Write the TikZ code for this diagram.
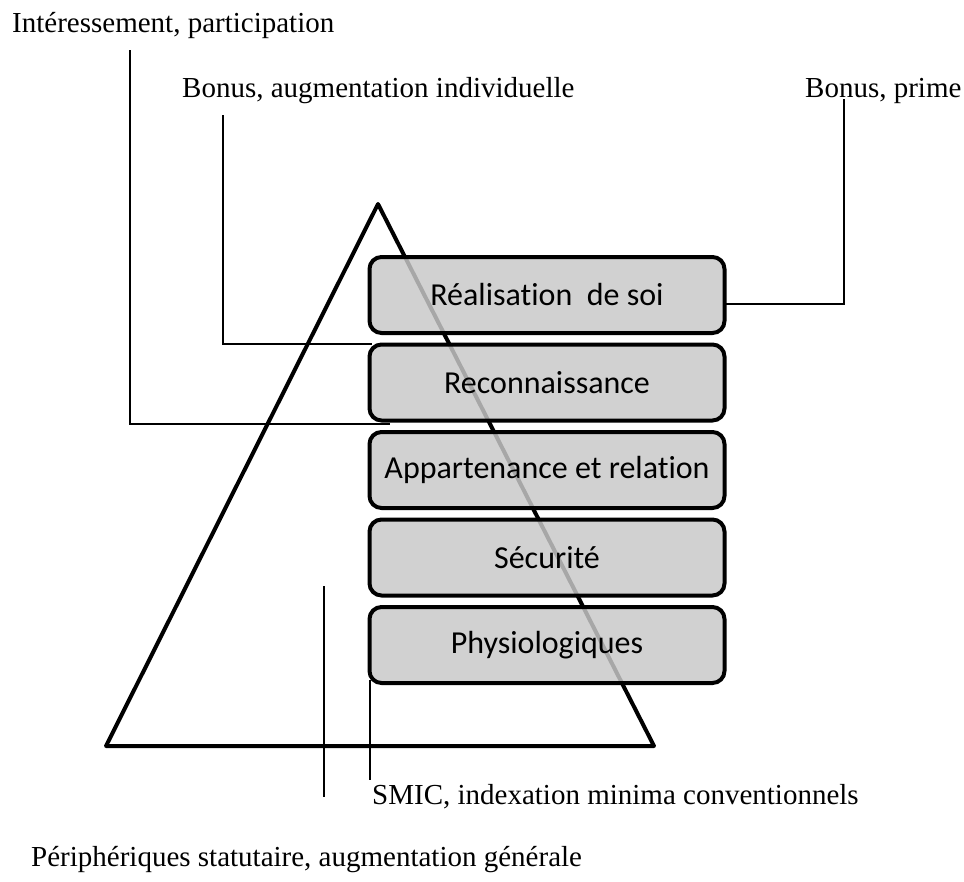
\documentclass[tikz,border=0pt]{standalone}
\usepackage{fontspec}
\setmainfont{Liberation Serif}
\newfontfamily\boxfont[Ligatures=NoCommon]{Carlito}
\begin{document}
\begin{tikzpicture}[x=1pt,y=-1pt,
  level/.style={draw=black, line width=4pt, rounded corners=12pt,
    fill={rgb,255:red,200;green,200;blue,200}, fill opacity=0.84, text opacity=1,
    minimum width=355pt, minimum height=76pt, inner sep=0pt,
    font=\boxfont\fontsize{32}{36}\selectfont},
  lbl/.style={anchor=base west, inner sep=0pt, font=\fontsize{29}{32}\selectfont},
  conn/.style={draw=black, line width=1.5pt}]
\useasboundingbox (0,0) rectangle (964,881);
% triangle
\coordinate (apex) at (378,204);
\coordinate (bl) at (106,746);
\coordinate (br) at (654,746);
\draw[line width=4pt, line join=round] (apex) -- (br) -- (bl) -- cycle;
% levels
\node[level] (r1) at (547,295) {Réalisation\ \ de soi};
\node[level] (r2) at (547,382.5) {Reconnaissance};
\node[level] (r3) at (547,470) {Appartenance et relation};
\node[level] (r4) at (547,557.5) {Sécurité};
\node[level] (r5) at (547,645) {Physiologiques};
% labels
\node[lbl] (t1) at (12,32) {Intéressement, participation};
\node[lbl] (t2) at (182,97) {Bonus, augmentation individuelle};
\node[lbl] (t3) at (805,97) {Bonus, prime};
\node[lbl] (t4) at (372,804) {SMIC, indexation minima conventionnels};
\node[lbl] (t5) at (31,866) {Périphériques statutaire, augmentation générale};
% connectors
\coordinate (a1) at (130,50);
\coordinate (a2) at (390,424);
\draw[conn] (a1) |- (a2);
\coordinate (b1) at (223,115);
\coordinate (b2) at (372,344);
\draw[conn] (b1) |- (b2);
\coordinate (c1) at (844,99);
\coordinate (c2) at (725,304);
\draw[conn] (c1) |- (c2);
\coordinate (d1) at (370,680);
\coordinate (d2) at (370,780);
\draw[conn] (d1) -- (d2);
\coordinate (e1) at (324,586);
\coordinate (e2) at (324,797);
\draw[conn] (e1) -- (e2);
\end{tikzpicture}
\end{document}
